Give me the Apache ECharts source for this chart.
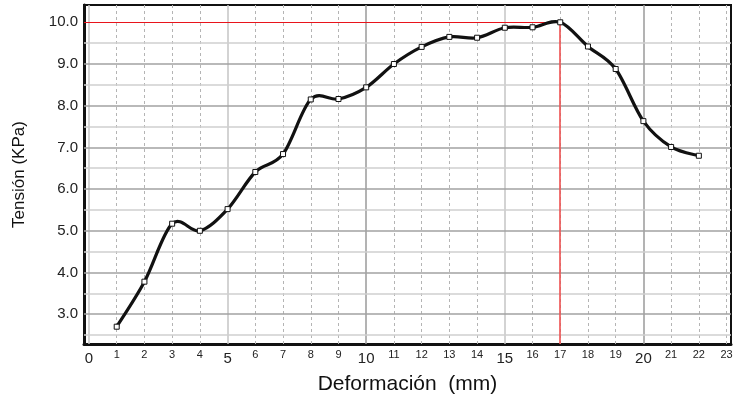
<!DOCTYPE html>
<html>
<head>
<meta charset="utf-8">
<script src="https://cdn.jsdelivr.net/npm/echarts@6/dist/echarts.min.js"></script>
<style>
  html, body { margin: 0; padding: 0; background: #fff; }
  #chart { width: 736px; height: 394px; }
</style>
</head>
<body>
<div id="chart"></div>
<script>
// datos
var DEFORM = [1, 2, 3, 4, 5, 6, 7, 8, 9, 10, 11, 12, 13, 14, 15, 16, 17, 18, 19, 20, 21, 22];
var TENSION = [2.70, 3.78, 5.17, 5.00, 5.52, 6.41, 6.84, 8.15, 8.16, 8.44, 9.00, 9.41, 9.65, 9.63, 9.87, 9.88, 10.00, 9.42, 8.88, 7.63, 7.01, 6.80];

// ejes
var X_MIN = -0.18, X_MAX = 23.16;
var Y_MIN = 2.285, Y_MAX = 10.415;
var X_TICKS = [0, 1, 2, 3, 4, 5, 6, 7, 8, 9, 10, 11, 12, 13, 14, 15, 16, 17, 18, 19, 20, 21, 22, 23];
var X_MAJOR = [0, 5, 10, 15, 20];
var Y_TICKS = [3, 4, 5, 6, 7, 8, 9, 10];
var Y_HALF = [2.5, 3.5, 4.5, 5.5, 6.5, 7.5, 8.5, 9.5];

var FONT = 'Arial, "Liberation Sans", sans-serif';

// pico (linea roja)
var peakIdx = 0;
TENSION.forEach(function (v, i) { if (v > TENSION[peakIdx]) peakIdx = i; });
var peakX = DEFORM[peakIdx], peakY = TENSION[peakIdx];

// lineas de la cuadricula
var gridLines = [];
X_TICKS.forEach(function (v) {
  var style;
  if (v === 10 || v === 20) style = { color: '#9a9a9a', width: 1.5, type: 'solid' };
  else if (X_MAJOR.indexOf(v) >= 0) style = { color: '#c4c4c4', width: 1.5, type: 'solid' };
  else style = { color: '#b4b4b4', width: 1, type: [3, 3] };
  gridLines.push({ xAxis: v, lineStyle: style });
});
Y_TICKS.forEach(function (v) {
  if (v === peakY) return;
  gridLines.push({ yAxis: v, lineStyle: { color: '#a2a2a2', width: 1.5, type: 'solid' } });
});
Y_HALF.forEach(function (v) {
  gridLines.push({ yAxis: v, lineStyle: { color: '#cfcfcf', width: 1.5, type: 'solid' } });
});

// tramo spline (catmull-rom) entre el punto i y el i+1
function renderSpline(params, api) {
  var i = params.dataIndex;
  var n = DEFORM.length;
  if (i >= n - 1) return null;
  var p = function (k) {
    k = Math.max(0, Math.min(n - 1, k));
    return api.coord([DEFORM[k], TENSION[k]]);
  };
  var p0 = p(i - 1), p1 = p(i), p2 = p(i + 1), p3 = p(i + 2);
  return {
    type: 'bezierCurve',
    shape: {
      x1: p1[0], y1: p1[1],
      x2: p2[0], y2: p2[1],
      cpx1: p1[0] + (p2[0] - p0[0]) / 6, cpy1: p1[1] + (p2[1] - p0[1]) / 6,
      cpx2: p2[0] - (p3[0] - p1[0]) / 6, cpy2: p2[1] - (p3[1] - p1[1]) / 6
    },
    style: { stroke: '#111', lineWidth: 3.2, fill: null, lineCap: 'round' }
  };
}

var chart = echarts.init(document.getElementById('chart'));
chart.setOption({
  animation: false,
  backgroundColor: '#fff',
  grid: {
    left: 84, top: 5, right: 5, bottom: 50,
    outerBoundsMode: 'none',
    containLabel: false,
    show: true, borderColor: '#111', borderWidth: 2
  },
  xAxis: {
    type: 'value',
    min: X_MIN, max: X_MAX,
    name: 'Deformación  (mm)',
    nameLocation: 'middle',
    nameGap: 30,
    nameTextStyle: { fontFamily: FONT, fontSize: 21, color: '#111' },
    axisLine: { show: true, onZero: false, lineStyle: { color: '#111', width: 3 } },
    axisTick: { show: false },
    splitLine: { show: false },
    axisLabel: {
      customValues: X_TICKS,
      margin: 5,
      fontFamily: FONT,
      color: '#222',
      formatter: function (v) {
        return X_MAJOR.indexOf(v) >= 0 ? '{big|' + v + '}' : '{small|' + v + '}';
      },
      rich: {
        big: { fontSize: 15, fontFamily: FONT, color: '#222', padding: [2, 0, 0, 0] },
        small: { fontSize: 11, fontFamily: FONT, color: '#222' }
      }
    }
  },
  yAxis: {
    type: 'value',
    min: Y_MIN, max: Y_MAX,
    name: 'Tensión (KPa)',
    nameLocation: 'middle',
    nameGap: 56,
    nameTextStyle: { fontFamily: FONT, fontSize: 17, color: '#111' },
    axisLine: { show: true, onZero: false, lineStyle: { color: '#111', width: 3 } },
    axisTick: { show: false },
    splitLine: { show: false },
    axisLabel: {
      customValues: Y_TICKS,
      margin: 6,
      fontFamily: FONT,
      fontSize: 15,
      color: '#222',
      formatter: function (v) { return v.toFixed(1); }
    }
  },
  series: [
    {
      // cuadricula
      type: 'line',
      data: [],
      silent: true,
      markLine: {
        silent: true,
        z: 1,
        symbol: 'none',
        label: { show: false },
        emphasis: { disabled: true },
        data: gridLines
      }
    },
    {
      // lineas rojas al maximo
      type: 'line',
      data: [],
      silent: true,
      markLine: {
        silent: true,
        z: 2,
        symbol: 'none',
        label: { show: false },
        emphasis: { disabled: true },
        lineStyle: { type: 'solid' },
        data: [
          [{ coord: [X_MIN, peakY], lineStyle: { color: '#e8141c', width: 1.2, type: 'solid' } }, { coord: [peakX, peakY] }],
          [{ coord: [peakX, peakY], lineStyle: { color: '#ee5050', width: 1.6, type: 'solid' } }, { coord: [peakX, Y_MIN] }]
        ]
      }
    },
    {
      // curva suavizada
      type: 'custom',
      z: 8,
      silent: true,
      renderItem: renderSpline,
      data: DEFORM.map(function (x, i) { return [x, TENSION[i]]; })
    },
    {
      // marcadores
      name: 'Tensión',
      type: 'line',
      z: 10,
      data: DEFORM.map(function (x, i) { return [x, TENSION[i]]; }),
      symbol: 'rect',
      symbolSize: 5,
      showAllSymbol: true,
      lineStyle: { width: 0, opacity: 0 },
      itemStyle: { color: '#fff', borderColor: '#111', borderWidth: 1 }
    }
  ]
});
</script>
</body>
</html>
